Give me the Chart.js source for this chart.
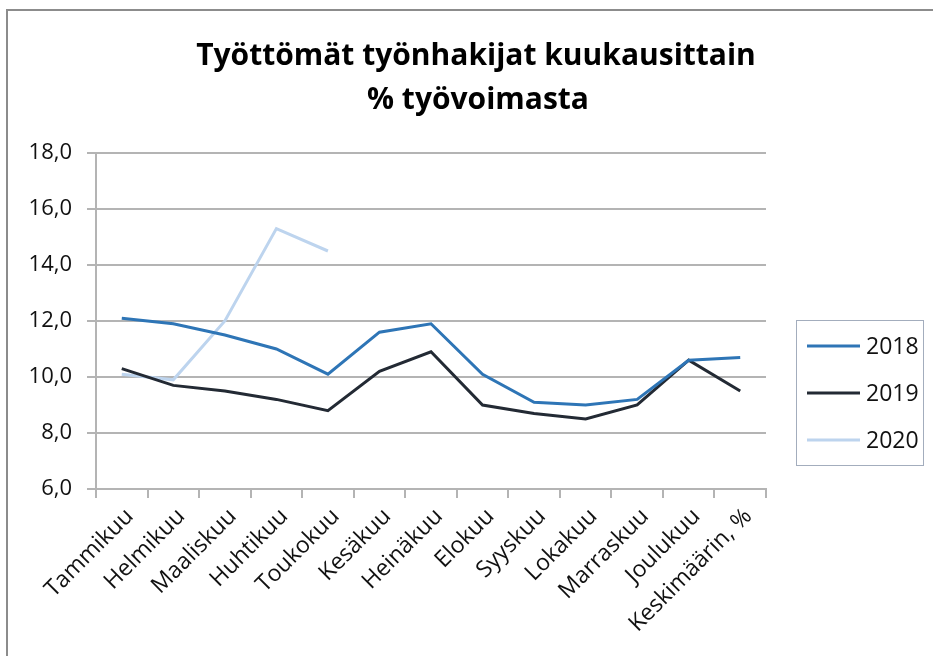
<!DOCTYPE html>
<html>
<head>
<meta charset="utf-8">
<script src="https://cdn.jsdelivr.net/npm/chart.js@4.4.1/dist/chart.umd.min.js"></script>
<style>
  html, body { margin: 0; padding: 0; background: #fff; }
  #wrap { width: 933px; height: 656px; }
</style>
</head>
<body>
<div id="wrap"><canvas id="tyottomat" width="933" height="656"></canvas></div>
<script>
const months = ['Tammikuu', 'Helmikuu', 'Maaliskuu', 'Huhtikuu', 'Toukokuu', 'Kesäkuu',
    'Heinäkuu', 'Elokuu', 'Syyskuu', 'Lokakuu', 'Marraskuu', 'Joulukuu', 'Keskimäärin, %'];
const years = ['2018', '2019', '2020'];
const v2018 = [12.1, 11.9, 11.5, 11.0, 10.1, 11.6, 11.9, 10.1, 9.1, 9.0, 9.2, 10.6, 10.7];
const v2019 = [10.3, 9.7, 9.5, 9.2, 8.8, 10.2, 10.9, 9.0, 8.7, 8.5, 9.0, 10.6, 9.5];
const v2020 = [10.1, 9.9, 12.0, 15.3, 14.5];
const titleLines = ['Työttömät työnhakijat kuukausittain', '% työvoimasta'];

const colors = ['rgb(46, 117, 182)', 'rgb(35, 42, 52)', 'rgb(189, 212, 238)'];
const gridColor = '#b4b4b4';
const textColor = '#111';
const fontFamily = '"Open Sans", sans-serif';

// title, frame and legend box are drawn by hand
const decorations = {
    id: 'decorations',
    afterDraw(chart) {
        const ctx = chart.ctx;
        ctx.save();
        // outer frame (left + top only visible)
        ctx.strokeStyle = '#8c8c8c';
        ctx.lineWidth = 2;
        ctx.beginPath();
        ctx.moveTo(7, 656);
        ctx.lineTo(7, 10);
        ctx.lineTo(933, 10);
        ctx.stroke();

        // title
        ctx.fillStyle = '#000';
        ctx.textAlign = 'center';
        ctx.textBaseline = 'middle';
        ctx.font = 'bold 30px ' + fontFamily;
        ctx.fillText(titleLines[0], 476, 56);
        ctx.fillText(titleLines[1], 478, 100);

        // legend
        ctx.strokeStyle = '#a3adbd';
        ctx.lineWidth = 1;
        ctx.strokeRect(796.5, 320.5, 127, 145);
        ctx.font = '23px ' + fontFamily;
        ctx.textAlign = 'left';
        chart.data.datasets.forEach((ds, i) => {
            const y = 346 + i * 47;
            ctx.strokeStyle = ds.borderColor;
            ctx.lineWidth = 3;
            ctx.beginPath();
            ctx.moveTo(807, y);
            ctx.lineTo(860, y);
            ctx.stroke();
            ctx.fillStyle = textColor;
            ctx.fillText(ds.label, 866, y + 1);
        });
        ctx.restore();
    }
};

const data = {
    labels: months,
    datasets: [
        { label: years[0], data: v2018, borderColor: colors[0], backgroundColor: colors[0] },
        { label: years[1], data: v2019, borderColor: colors[1], backgroundColor: colors[1] },
        { label: years[2], data: v2020, borderColor: colors[2], backgroundColor: colors[2] },
    ]
};

const config = {
    type: 'line',
    data: data,
    options: {
        responsive: false,
        animation: false,
        layout: { padding: { left: 10, right: 167, top: 153, bottom: 0 } },
        elements: {
            point: { radius: 0 },
            line: { borderWidth: 3, tension: 0 }
        },
        plugins: {
            legend: { display: false },
            title: { display: false },
            tooltip: { enabled: false }
        },
        scales: {
            x: {
                offset: true,
                afterFit: (scale) => { scale.height = 167; },
                grid: { offset: true, drawOnChartArea: false, drawTicks: true, tickLength: 9, color: gridColor, lineWidth: 2 },
                border: { display: true, color: gridColor, width: 2 },
                ticks: {
                    autoSkip: false,
                    minRotation: 45,
                    maxRotation: 45,
                    labelOffset: 8,
                    padding: 5,
                    color: textColor,
                    font: { family: fontFamily, size: 23 }
                }
            },
            y: {
                min: 6,
                max: 18,
                afterFit: (scale) => { scale.width = 86; },
                grid: { color: gridColor, lineWidth: 2, tickLength: 9 },
                border: { display: true, color: gridColor, width: 2 },
                ticks: {
                    stepSize: 2,
                    padding: 15,
                    color: textColor,
                    font: { family: fontFamily, size: 22 },
                    callback: (v) => v.toFixed(1).replace('.', ',')
                }
            }
        }
    },
    plugins: [decorations]
};

if (document.getElementById('tyottomat') != null) {
    new Chart(document.getElementById('tyottomat'), config);
}
</script>
</body>
</html>
